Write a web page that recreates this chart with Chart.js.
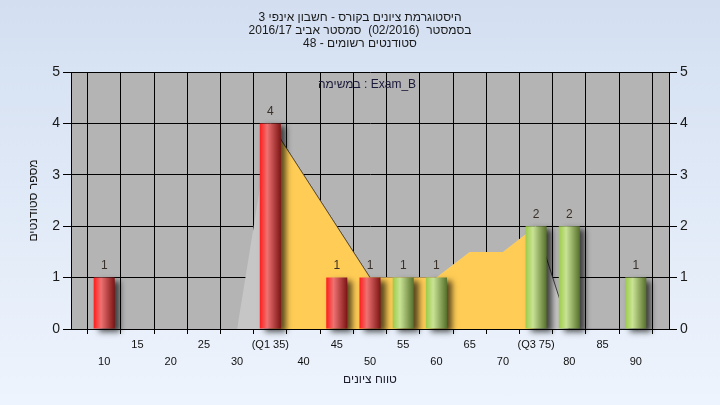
<!DOCTYPE html>
<html><head><meta charset="utf-8">
<script src="https://cdn.jsdelivr.net/npm/chart.js@4.4.1/dist/chart.umd.min.js"></script>
<style>
html,body{margin:0;padding:0;}
body{width:720px;height:405px;background:linear-gradient(#D3DFF1,#EEF4FD);overflow:hidden}
#wrap{width:720px;height:405px;position:relative}
canvas{display:block}
</style></head><body>
<div id="wrap"><canvas id="c" dir="rtl" width="720" height="405" style="width:720px;height:405px"></canvas></div>
<script>
// ---- data ----
const gradeBins = ['5','10','15','20','25','30','35','40','45','50','55','60','65','70','75','80','85','90','95'];
const tickLabels = ['','10','15','20','25','30','(Q1 35)','40','45','50','55','60','65','70','(Q3 75)','80','85','90',''];
const studentCounts = [0,1,0,0,0,0,4,0,1,1,1,1,0,0,2,2,0,1,0];
const outerArea = [null,null,null,null,null,0,4,3,2,1,1,1,1.5,1.5,2,0,0,0,null];
const iqrArea   = [null,null,null,null,null,null,4,3,2,1,1,1,1.5,1.5,2,null,null,null,null];
const passFrom = 55;
const titleLines = ['היסטוגרמת ציונים בקורס - חשבון אינפי 3', 'בסמסטר  (02/2016)  סמסטר אביב 2016/17', 'סטודנטים רשומים - 48'];
const examLabel = 'במשימה : Exam_B';
const xTitle = 'טווח ציונים';
const yTitle = 'מספר סטודנטים';

const FAM = '"Liberation Sans", "DejaVu Sans", Arial, sans-serif';

function cylinder(ctx) {
  const chart = ctx.chart;
  const xs = chart.scales.x;
  const pass = Number(gradeBins[ctx.dataIndex]) >= passFrom;
  const stops = pass ? ['#9CCB48', '#C9E395', '#56702C'] : ['#FF1C1C', '#EE7272', '#7C1414'];
  if (!xs || ctx.dataIndex === undefined || !isFinite(xs.getPixelForValue(0))) return stops[0];
  const c = xs.getPixelForValue(ctx.dataIndex);
  const half = (xs.getPixelForValue(1) - xs.getPixelForValue(0)) * 0.634 / 2;
  const g = chart.ctx.createLinearGradient(c - half, 0, c + half, 0);
  g.addColorStop(0, stops[0]);
  g.addColorStop(0.35, stops[1]);
  g.addColorStop(1, stops[2]);
  return g;
}

const plotBg = {
  id: 'plotBg',
  beforeDraw(chart) {
    const {ctx, chartArea: a} = chart;
    ctx.save();
    ctx.fillStyle = '#B4B4B4';
    ctx.fillRect(a.left, a.top, a.right - a.left, a.bottom - a.top);
    ctx.restore();
  }
};
const barShadow = {
  id: 'barShadow',
  beforeDatasetDraw(chart, args) {
    if (args.meta.type === 'bar') {
      const c = chart.ctx; c.save();
      c.shadowColor = 'rgba(0,0,0,0.65)'; c.shadowBlur = 6; c.shadowOffsetX = 5; c.shadowOffsetY = 3;
    }
  },
  afterDatasetDraw(chart, args) {
    if (args.meta.type === 'bar') chart.ctx.restore();
  }
};
const labels = {
  id: 'labelsPlugin',
  afterDatasetsDraw(chart) {
    const ctx = chart.ctx;
    const meta = chart.getDatasetMeta(0);
    ctx.save();
    ctx.font = '12px ' + FAM;
    ctx.fillStyle = '#3a3028';
    ctx.textAlign = 'center';
    ctx.textBaseline = 'middle';
    ctx.direction = 'ltr';
    meta.data.forEach((el, i) => {
      const v = studentCounts[i];
      if (v > 0) ctx.fillText(String(v), el.x, el.y - 12);
    });
    const a = chart.chartArea;
    ctx.fillStyle = '#1a1a3a';
    ctx.fillText(examLabel, (a.left + a.right) / 2 - 3, a.top + 13);
    ctx.restore();
  }
};

new Chart(document.getElementById('c'), {
  type: 'bar',
  data: {
    labels: gradeBins,
    datasets: [
      {
        type: 'bar', data: studentCounts, order: 0,
        backgroundColor: cylinder, borderWidth: 0,
        barPercentage: 0.634, categoryPercentage: 1, clip: 10
      },
      {
        type: 'line', data: iqrArea, order: 1, fill: 'origin',
        backgroundColor: '#FFCC55', borderWidth: 1, pointRadius: 0, tension: 0,
        segment: { borderColor: c => c.p0.parsed.y > c.p1.parsed.y ? 'rgba(70,60,50,0.7)' : 'rgba(0,0,0,0)' }
      },
      {
        type: 'line', data: outerArea, order: 2, fill: 'origin',
        backgroundColor: '#C6C6C6', borderWidth: 1, pointRadius: 0, tension: 0,
        segment: { borderColor: c => c.p0.parsed.y > c.p1.parsed.y ? 'rgba(40,40,40,0.85)' : (c.p0.parsed.y === 0 && c.p1.parsed.y === 0 ? 'rgba(90,90,110,0.6)' : 'rgba(0,0,0,0)') }
      }
    ]
  },
  options: {
    responsive: false, animation: false,
    devicePixelRatio: 1,
    layout: { padding: 0 },
    plugins: {
      legend: { display: false },
      tooltip: { enabled: false },
      title: {
        display: true, text: titleLines, color: '#1a1a1a',
        font: { family: FAM, size: 12, weight: 'normal', lineHeight: 13 / 12 },
        padding: { top: 11.5, bottom: 21.5 }
      }
    },
    scales: {
      x: {
        type: 'category', offset: false,
        grid: { color: '#000', lineWidth: 1, tickLength: 5, drawTicks: true },
        border: { color: '#000' },
        ticks: {
          autoSkip: false, maxRotation: 0, minRotation: 0, padding: 2, color: '#111',
          font: { family: FAM, size: 11, lineHeight: 1.55 },
          callback: (v, i) => (i % 2 === 1 ? ['', tickLabels[i]] : [tickLabels[i], ''])
        },
        title: { display: true, text: xTitle, color: '#1a1a2a', font: { family: FAM, size: 12 }, padding: { top: 0, bottom: 18 } },
        afterFit(s) { s.height = 76; }
      },
      y: {
        position: 'left', min: 0, max: 5,
        grid: { color: '#000', lineWidth: 1, tickLength: 8 },
        border: { color: '#000' },
        ticks: { stepSize: 1, padding: 3, color: '#1a1a1a', font: { family: FAM, size: 14 } },
        title: { display: true, text: yTitle, color: '#1a1a1a', font: { family: FAM, size: 12 }, padding: { top: 26, bottom: 0 } },
        afterFit(s) { s.width = 71; }
      },
      y2: {
        position: 'right', min: 0, max: 5,
        grid: { color: '#000', lineWidth: 1, tickLength: 8, drawOnChartArea: false },
        border: { color: '#000' },
        ticks: { stepSize: 1, padding: 3, color: '#1a1a1a', font: { family: FAM, size: 14 } },
        afterFit(s) { s.width = 51; }
      }
    }
  },
  plugins: [plotBg, barShadow, labels]
});
</script>
</body></html>
